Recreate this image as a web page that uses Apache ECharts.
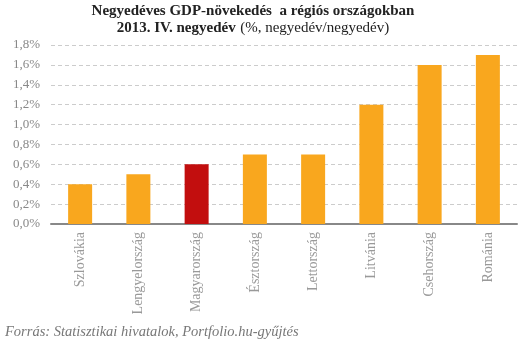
<!DOCTYPE html>
<html><head><meta charset="utf-8">
<script src="https://cdn.jsdelivr.net/npm/echarts@6/dist/echarts.min.js"></script>
<style>html,body{margin:0;padding:0;background:#fff}#c{width:531px;height:342px}</style>
</head><body><div id="c"></div>
<script>
const categories = ["Szlovákia","Lengyelország","Magyarország","Észtország","Lettország","Litvánia","Csehország","Románia"];
const values = [0.4, 0.5, 0.6, 0.7, 0.7, 1.2, 1.6, 1.7];
const highlight = "Magyarország";
const FONT = "Liberation Serif";
const chart = echarts.init(document.getElementById('c'));
chart.setOption({
  animation: false,
  textStyle: { fontFamily: FONT },
  title: [{
    left: 248, top: -2, textAlign: 'center',
    text: '{b|Negyedéves GDP-növekedés  a régiós országokban}\n{b|2013. IV. negyedév} {n|(%, negyedév/negyedév)}',
    textStyle: { fontWeight: 'normal', rich: {
      b: { fontFamily: FONT, fontWeight: 'bold', fontSize: 15, color: '#222', lineHeight: 16 },
      n: { fontFamily: FONT, fontWeight: 'normal', fontSize: 15, color: '#222', lineHeight: 16 }
    } }
  }, {
    left: 0, top: 320,
    text: 'Forrás: Statisztikai hivatalok, Portfolio.hu-gyűjtés',
    textStyle: { fontFamily: FONT, fontStyle: 'italic', fontWeight: 'normal', fontSize: 14.5, color: '#777' }
  }],
  grid: { left: 51, right: 14, top: 45, bottom: 118 },
  xAxis: {
    type: 'category', data: categories,
    axisLine: { lineStyle: { color: '#888', width: 2 } },
    axisTick: { show: false },
    axisLabel: { rotate: 90, color: '#999', fontSize: 14, fontFamily: FONT, margin: 8 }
  },
  yAxis: {
    type: 'value', min: 0, max: 1.8, interval: 0.2,
    axisLine: { show: false }, axisTick: { show: false },
    splitLine: { lineStyle: { color: '#ccc', type: [4, 3] } },
    axisLabel: { color: '#888', fontSize: 13, fontFamily: FONT, margin: 11,
      formatter: v => v.toFixed(1).replace('.', ',') + '%' }
  },
  series: [{
    type: 'bar', barWidth: 24,
    data: categories.map((c, i) => ({ value: values[i], itemStyle: { color: c === highlight ? '#C20E0E' : '#F9A71E' } }))
  }]
});
</script></body></html>
